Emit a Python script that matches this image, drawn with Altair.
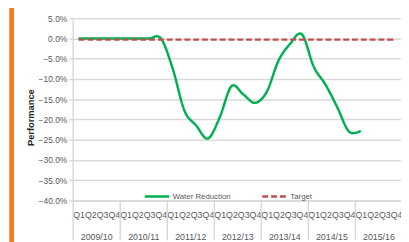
import altair as alt
import pandas as pd

FONT = "Liberation Sans"

quarters = ["Q1", "Q2", "Q3", "Q4"]
years = ["2009/10", "2010/11", "2011/12", "2012/13", "2013/14", "2014/15", "2015/16"]
series_names = ["Water Reduction", "Target"]

# values in percent, one per quarter from 2009/10 Q1
water_reduction = [0.0, 0.0, 0.0, 0.0, 0.0, 0.0, 0.0, 0.0,
                   -7.4, -17.8, -21.5, -24.7,
                   -19.5, -11.8, -13.8, -15.9,
                   -13.2, -5.5, -1.3, 1.0,
                   -7.0, -11.4, -17.0, -23.0,
                   -22.8]
target = [-0.3, -0.3, -0.3, -0.3, -0.3, -0.3, -0.3, -0.3,
          -0.3, -0.3, -0.3, -0.3, -0.3, -0.3, -0.3, -0.3,
          -0.3, -0.3, -0.3, -0.3, -0.3, -0.3, -0.3, -0.3,
          -0.3, -0.3, -0.3, -0.3]
y_ticks = [0.05, 0.0, -0.05, -0.10, -0.15, -0.20, -0.25, -0.30, -0.35, -0.40]

rows = []
for i, v in enumerate(water_reduction):
    rows.append({"idx": i, "value": v / 100, "series": series_names[0]})
for i, v in enumerate(target):
    rows.append({"idx": i, "value": v / 100, "series": series_names[1]})
df = pd.DataFrame(rows)

n_q = len(years) * len(quarters)
q_df = pd.DataFrame({"idx": list(range(n_q))})
div_df = pd.DataFrame({"idx": [k * 4 - 0.5 for k in range(len(years) + 1)]})
yr_df = pd.DataFrame({"idx": [k * 4 + 1.5 for k in range(len(years))]})

xscale = alt.Scale(domain=[-0.5, 27.42], nice=False, zero=False)
GRID = "#d9d9d9"
TXT = "#595959"

q_expr = "[" + ",".join(f"'{q}'" for q in quarters) + "][round(datum.value) % 4]"
yr_expr = "[" + ",".join(f"'{y}'" for y in years) + "][floor(datum.value / 4)]"

lines = alt.Chart(df).mark_line(interpolate="cardinal", strokeWidth=2.5, clip=True).encode(
    x=alt.X("idx:Q", scale=xscale, axis=alt.Axis(
        orient="bottom", values=list(range(n_q)), labelExpr=q_expr, ticks=False, grid=False,
        domain=True, domainColor=GRID, domainWidth=1.5, title=None,
        labelFont=FONT, labelFontSize=9, labelColor=TXT, labelPadding=10,
        labelOverlap=False, labelFlush=False, labelBound=False)),
    y=alt.Y("value:Q", scale=alt.Scale(domain=[-0.40, 0.05], nice=False, zero=False),
            axis=alt.Axis(values=y_ticks, format=".1%", grid=True, gridColor=GRID,
                          gridWidth=1.5, domain=True, domainColor=GRID, domainWidth=1.5,
                          ticks=True, tickSize=4, tickColor=GRID, tickWidth=1.5,
                          labelFont=FONT, labelFontSize=8.6, labelColor=TXT, labelPadding=2,
                          title="Performance", titleFont=FONT, titleFontSize=9.5,
                          titleFontWeight="bold", titleColor="#262626", titleX=-43,
                          titleY=101, titleAngle=270, titleAlign="center",
                          titleBaseline="middle")),
    color=alt.Color("series:N", scale=alt.Scale(domain=series_names, range=["#00B050", "#C0504D"]),
                    legend=alt.Legend(orient="none", legendX=72, legendY=168,
                                      direction="horizontal", title=None, symbolType="stroke",
                                      symbolSize=625, symbolStrokeWidth=2.5,
                                      labelFont=FONT, labelFontSize=8, labelColor=TXT,
                                      columnPadding=26, labelOffset=2, padding=0)),
    strokeDash=alt.StrokeDash("series:N", scale=alt.Scale(domain=series_names,
                                                          range=[[1, 0], [6, 3]]),
                              legend=alt.Legend(orient="none", legendX=72, legendY=168,
                                                direction="horizontal", title=None)),
    order=alt.Order("idx:Q"),
)

dividers = alt.Chart(div_df).mark_point(opacity=0).encode(
    x=alt.X("idx:Q", scale=xscale, axis=alt.Axis(
        orient="bottom", offset=0, values=list(div_df["idx"]), labels=False, ticks=True,
        tickSize=40, tickColor=GRID, tickWidth=1.5, domain=False, grid=False, title=None))
)

year_axis = alt.Chart(yr_df).mark_point(opacity=0).encode(
    x=alt.X("idx:Q", scale=xscale, axis=alt.Axis(
        orient="bottom", offset=0, values=list(yr_df["idx"]), labelExpr=yr_expr, ticks=False,
        domain=False, grid=False, title=None, labelFont=FONT, labelFontSize=9,
        labelColor=TXT, labelPadding=33, labelOverlap=False, labelFlush=False,
        labelBound=False))
)

orange = alt.Chart(q_df).mark_rule(color="#F47B20", strokeWidth=4).encode(
    x=alt.value(-62), y=alt.value(-20), y2=alt.value(240)
)

chart = alt.layer(lines, dividers, year_axis, orange).resolve_axis(
    x="independent"
).properties(
    width=335, height=186,
    autosize=alt.AutoSizeParams(type="none"),
    padding={"left": 66, "top": 8, "right": 0, "bottom": 40},
    background="white",
).configure_view(stroke=None)

chart.save("out.html", embed_options={"renderer": "svg", "actions": False})
